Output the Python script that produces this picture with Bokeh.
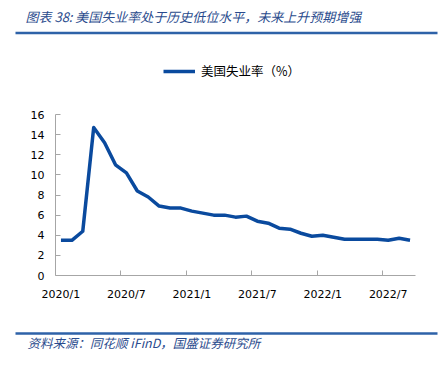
from bokeh.plotting import figure
from bokeh.layouts import column
from bokeh.models import Range1d, LinearAxis, FixedTicker, Legend, LegendItem, ColumnDataSource
from bokeh.core.properties import value
from bokeh.embed import file_html
from bokeh.resources import INLINE

# ---- data ----
months = ["2020/1", "2020/2", "2020/3", "2020/4", "2020/5", "2020/6", "2020/7", "2020/8",
          "2020/9", "2020/10", "2020/11", "2020/12",
          "2021/1", "2021/2", "2021/3", "2021/4", "2021/5", "2021/6", "2021/7", "2021/8",
          "2021/9", "2021/10", "2021/11", "2021/12",
          "2022/1", "2022/2", "2022/3", "2022/4", "2022/5", "2022/6", "2022/7", "2022/8", "2022/9"]
unemployment = [3.5, 3.5, 4.4, 14.7, 13.2, 11.0, 10.2, 8.4, 7.8, 6.9, 6.7, 6.7,
                6.4, 6.2, 6.0, 6.0, 5.8, 5.9, 5.4, 5.2, 4.7, 4.6, 4.2, 3.9,
                4.0, 3.8, 3.6, 3.6, 3.6, 3.6, 3.5, 3.7, 3.5]
tick_labels = ["2020/1", "2020/7", "2021/1", "2021/7", "2022/1", "2022/7"]
y_ticks = [0, 2, 4, 6, 8, 10, 12, 14, 16]

title_text = "图表 38: 美国失业率处于历史低位水平，未来上升预期增强"
legend_text = "美国失业率（%）"
source_text = "资料来源：同花顺 iFinD，国盛证券研究所"

# ---- derived ----
xc = [i + 0.5 for i in range(len(months))]
src = ColumnDataSource(dict(x=xc, y=unemployment, m=months))
label_pos = [months.index(t) + 0.5 for t in tick_labels]
boundary_pos = [months.index(t) for t in tick_labels[1:]]

W = 442
TITLE_C = "#2a4b8d"
RULE_C = "#2e62a8"
CJK = "Noto Sans CJK SC"


def decor(h):
    f = figure(width=W, height=h, output_backend="svg", toolbar_location=None, tools="",
               x_range=Range1d(0, W), y_range=Range1d(h, 0),
               x_axis_type=None, y_axis_type=None, frame_align=False,
               min_border_left=0, min_border_right=0, min_border_top=0, min_border_bottom=0)
    f.outline_line_color = None
    f.xgrid.visible = False
    f.ygrid.visible = False
    return f


# ---- top: title and rule ----
TOP_H = 40
top = decor(TOP_H)
top.text(x=[25], y=[16], text=[title_text], text_font=value(CJK), text_font_style="italic",
         text_font_size="13px", text_color=TITLE_C, text_baseline="middle", text_align="left")
top.segment(x0=[15], y0=[32.5], x1=[437], y1=[32.5], line_color=RULE_C, line_width=2.5)

# ---- chart ----
CH_H = 278
FRAME_TOP, FRAME_BOT = 0, 235          # within chart figure
Y16_PX = 114 - TOP_H                   # pixel row of the 16 gridline within chart figure
y_end = 16 * (FRAME_BOT - FRAME_TOP) / (FRAME_BOT - Y16_PX)

p = figure(width=W, height=CH_H, output_backend="svg", toolbar_location=None, tools="",
           x_range=Range1d(0, len(months)), y_range=Range1d(0, y_end), frame_align=False,
           min_border_left=55, min_border_right=27, min_border_top=FRAME_TOP,
           min_border_bottom=CH_H - FRAME_BOT)
p.outline_line_color = None
p.xgrid.visible = False
p.ygrid.visible = False

AX = "#a6a6a6"
TICK_FONT = "DejaVu Sans"

ya = p.yaxis[0]
ya.ticker = FixedTicker(ticks=y_ticks)
ya.bounds = (0, 16)
ya.axis_line_color = AX
ya.major_tick_line_color = AX
ya.major_tick_in = 5
ya.major_tick_out = 0
ya.minor_tick_line_color = None
ya.major_label_text_font = TICK_FONT
ya.major_label_text_font_size = "11px"
ya.major_label_text_color = "#000000"
ya.major_label_standoff = 11

xa = p.xaxis[0]
xa.ticker = FixedTicker(ticks=boundary_pos)
xa.axis_line_color = AX
xa.major_tick_line_color = AX
xa.major_tick_in = 5
xa.major_tick_out = 0
xa.minor_tick_line_color = None
xa.major_label_text_font_size = "0px"
xa.major_label_standoff = 0
xa.major_label_overrides = {b: "" for b in boundary_pos}

xl = LinearAxis(ticker=FixedTicker(ticks=label_pos),
                major_label_overrides={pos: lab for pos, lab in zip(label_pos, tick_labels)},
                axis_line_color=None, major_tick_line_color=None, minor_tick_line_color=None,
                major_label_text_font=TICK_FONT, major_label_text_font_size="11px",
                major_label_text_color="#000000", major_label_standoff=6)
p.add_layout(xl, "below")

LINE = "#0a4a9e"
r = p.line("x", "y", source=src, line_color=LINE, line_width=3.5, line_join="round")

legend = Legend(items=[LegendItem(label=legend_text, renderers=[r])],
                location=(108, 195), padding=0, margin=0, border_line_color=None,
                background_fill_alpha=0, glyph_width=32, glyph_height=14,
                label_standoff=6, label_text_font=CJK,
                label_text_font_size="12.5px", label_text_color="#000000")
p.add_layout(legend, "center")

# ---- bottom: rule and source ----
BOT_H = 367 - TOP_H - CH_H
bot = decor(BOT_H)
bot.segment(x0=[15], y0=[15], x1=[437], y1=[15], line_color=RULE_C, line_width=2.5)
bot.text(x=[27], y=[24], text=[source_text], text_font=value(CJK), text_font_style="italic",
         text_font_size="12.5px", text_color=TITLE_C, text_baseline="middle", text_align="left")

layout = column(top, p, bot, spacing=0)
open("out.html", "w").write(file_html(layout, INLINE))
